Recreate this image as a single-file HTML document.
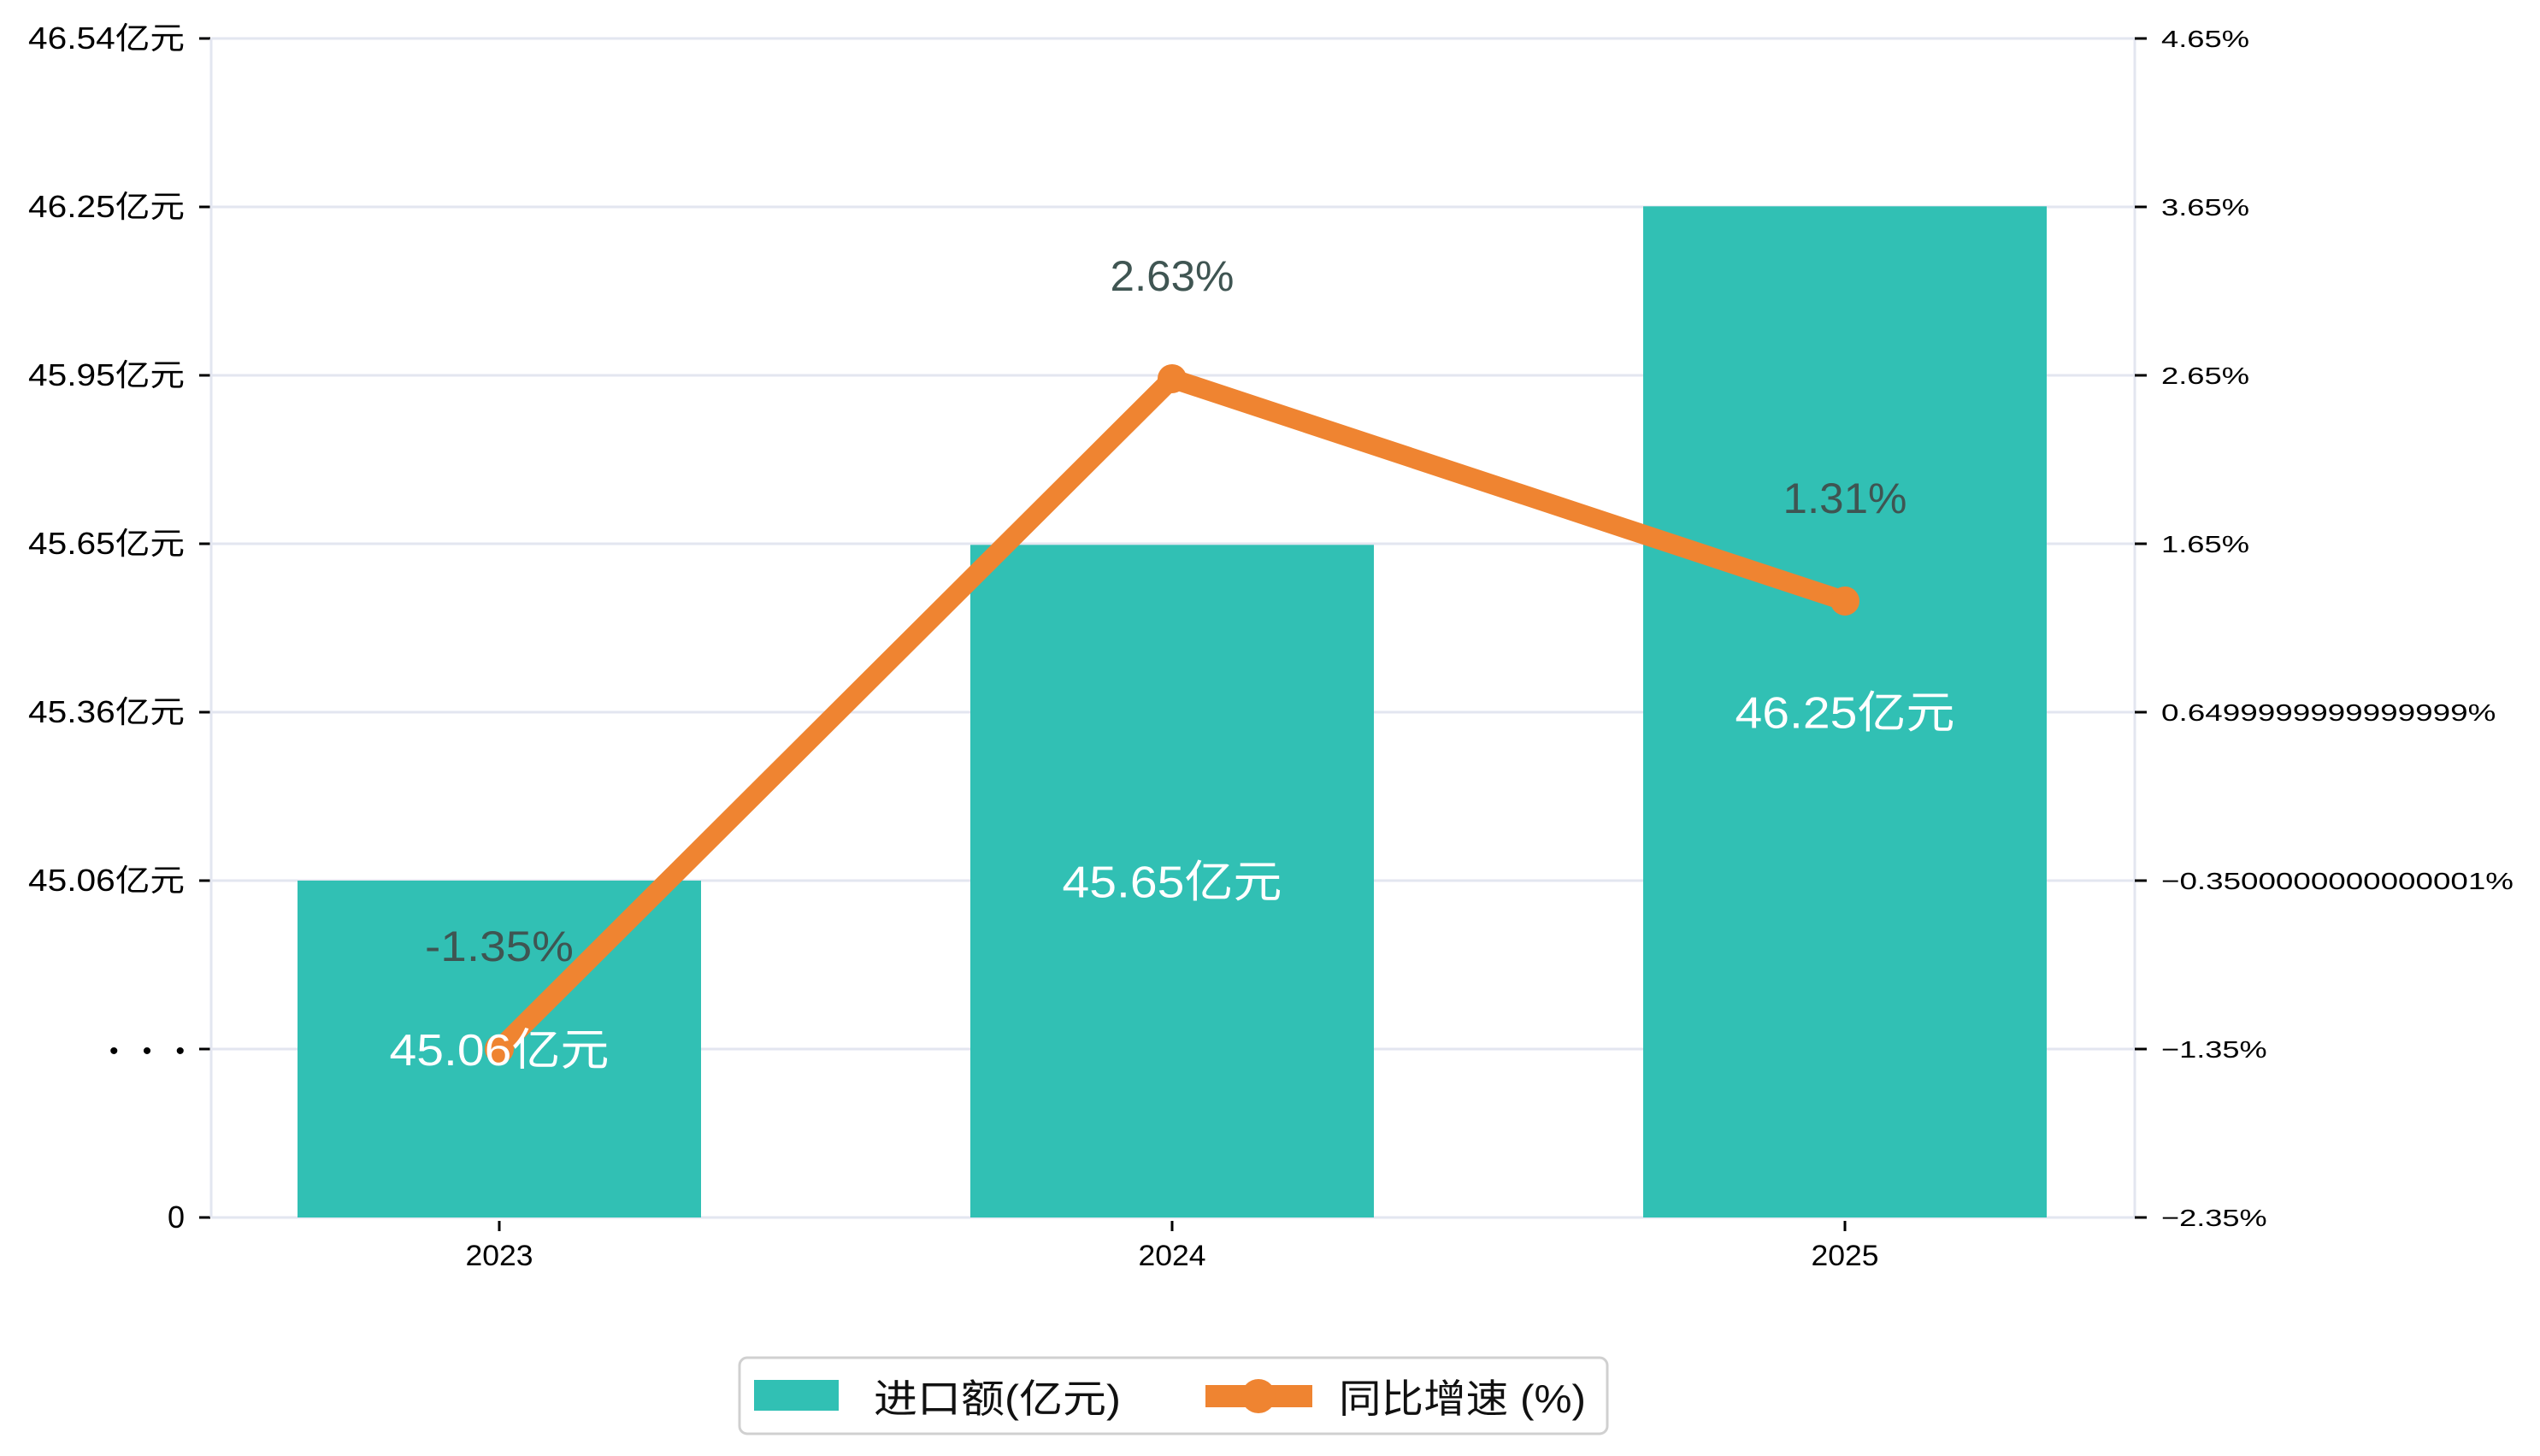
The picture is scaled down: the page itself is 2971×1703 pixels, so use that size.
<!DOCTYPE html>
<html><head><meta charset="utf-8"><style>
html,body{margin:0;padding:0;background:#fff;}
svg{display:block;}
text{font-family:"Liberation Sans","Noto Sans CJK SC",sans-serif;}
</style></head><body>
<svg id="chart" width="2971" height="1703" viewBox="0 0 2971 1703" xmlns="http://www.w3.org/2000/svg">
<g id="grid"></g>
<g id="bars"></g>
<g id="axes"></g>
<g id="line"></g>
<g id="labels"></g>
<g>
  <rect x="865" y="1588" width="1015" height="89" rx="9" fill="#fff" stroke="#d0d0d0" stroke-width="3"/>
  <rect x="882" y="1614" width="99" height="36" fill="#31c0b4"/>
  <text x="1022" y="1652" font-size="46" textLength="289" lengthAdjust="spacingAndGlyphs" fill="#111">进口额(亿元)</text>
  <line x1="1410" y1="1633" x2="1535" y2="1633" stroke="#ef8431" stroke-width="26"/>
  <circle cx="1472" cy="1633" r="20" fill="#ef8431"/>
  <text x="1566" y="1652" font-size="46" textLength="289" lengthAdjust="spacingAndGlyphs" fill="#111">同比增速 (%)</text>
</g>
</svg>
<script>
const categories = ["2023","2024","2025"];
const importValues = [45.06, 45.65, 46.245];
const importLabels = ["45.06亿元","45.65亿元","46.25亿元"];
const growthValues = [-1.35, 2.63, 1.31];
const growthLabels = ["-1.35%","2.63%","1.31%"];
const leftTicks = [0, 44.764, 45.06, 45.356, 45.652, 45.948, 46.244, 46.54];
const leftTickLabels = ["0","• • •","45.06亿元","45.36亿元","45.65亿元","45.95亿元","46.25亿元","46.54亿元"];
const rightTicks = [-2.35,-1.35,-0.35,0.65,1.65,2.65,3.65,4.65];
const rightTickLabels = ["−2.35%","−1.35%","−0.3500000000000001%","0.6499999999999999%","1.65%","2.65%","3.65%","4.65%"];

const NS="http://www.w3.org/2000/svg";
const X0=247, X1=2497, Y0=1424, YT=45;
function xPos(i){return 584 + i*787;}
function yLeft(v){ if(v<=0) return Y0; return 1030 - (v-45.06)*(985/1.48); }
function yRight(v){ return Y0 - (v+2.35)*((Y0-YT)/7); }
function mk(tag,attrs,parent){const e=document.createElementNS(NS,tag);for(const k in attrs)e.setAttribute(k,attrs[k]);parent.appendChild(e);return e;}
const grid=document.getElementById('grid'), bars=document.getElementById('bars'), axes=document.getElementById('axes'), line=document.getElementById('line'), labels=document.getElementById('labels');

leftTicks.forEach((t,i)=>{
  const y=yLeft(t);
  const g=mk('line',{x1:X0,y1:y,x2:X1,y2:y,stroke:'#e3e6f0','stroke-width':3},grid);
  
  
  const tk=mk('line',{x1:233,y1:y,x2:246,y2:y,stroke:'#000','stroke-width':3},axes);
  
  
  const lab=leftTickLabels[i];
  const attrs={x:216,y:y+12,'font-size':36,'text-anchor':'end',fill:'#000'};
  if(lab.length>3){attrs.textLength=183;attrs.lengthAdjust='spacingAndGlyphs';}
  if(lab==="• • •"){attrs.textLength=88;attrs.lengthAdjust='spacing';attrs['font-size']=30;}
  const tx=mk('text',attrs,axes);
  tx.textContent=lab;
  
  
});
mk('line',{x1:X0,y1:YT,x2:X0,y2:Y0,stroke:'#e3e6f0','stroke-width':3},axes);
mk('line',{x1:X1,y1:YT,x2:X1,y2:Y0,stroke:'#e3e6f0','stroke-width':3},axes);

rightTicks.forEach((t,i)=>{
  const y=yRight(t);
  const tk=mk('line',{x1:X1,y1:y,x2:X1+14,y2:y,stroke:'#000','stroke-width':3},axes);
  
  
  const lab=rightTickLabels[i];
  const tx=mk('text',{x:2528,y:y+10,'font-size':28,fill:'#000','font-family':'"DejaVu Sans",sans-serif',textLength:lab.length*20.6,lengthAdjust:'spacingAndGlyphs'},axes);
  tx.textContent=lab;
  
  
});

categories.forEach((c,i)=>{
  const x=xPos(i), top=yLeft(importValues[i]);
  const b=mk('rect',{x:x-236,y:top,width:472,height:Y0-top,fill:'#31c0b4'},bars);
  
  
  const tk=mk('line',{x1:x,y1:Y0+4,x2:x,y2:Y0+16,stroke:'#000','stroke-width':3},axes);
  
  
  const tx=mk('text',{x:x,y:1480,'font-size':34,'text-anchor':'middle',fill:'#000',textLength:79,lengthAdjust:'spacingAndGlyphs'},axes);
  tx.textContent=c;
  
  
  const bl=mk('text',{x:x,y:(top+Y0)/2+19,'font-size':52,'text-anchor':'middle',fill:'#fff',textLength:257,lengthAdjust:'spacingAndGlyphs'},labels);
  bl.textContent=importLabels[i];
  
  
});

const pts=growthValues.map((v,i)=>[xPos(i),yRight(v)]);
const pl=mk('polyline',{points:pts.map(p=>p.join(',')).join(' '),fill:'none',stroke:'#ef8431','stroke-width':23,'stroke-linejoin':'round','stroke-linecap':'round'},line);


pts.forEach((p,i)=>{
  const c=mk('circle',{cx:p[0],cy:p[1],r:17,fill:'#ef8431'},line);
  
  
  const t=mk('text',{x:p[0],y:p[1]-122+19,'font-size':50,'text-anchor':'middle',fill:'#3f5552',textLength:growthLabels[i].length*29,lengthAdjust:'spacingAndGlyphs'},labels);
  t.textContent=growthLabels[i];
  
  
});
</script>
</body></html>
